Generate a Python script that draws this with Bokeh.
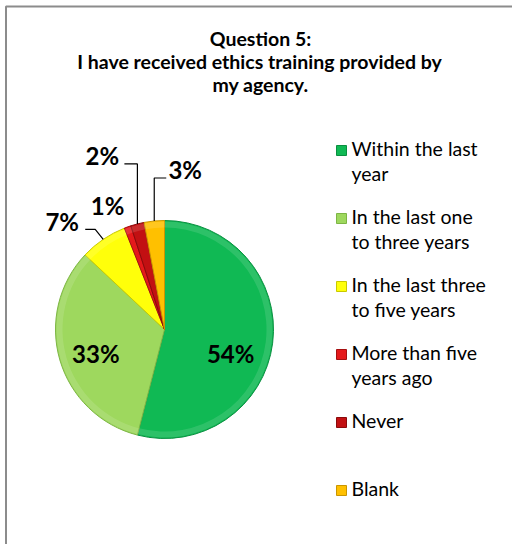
import numpy as np
from bokeh.plotting import figure
from bokeh.models import Range1d, ColumnDataSource
from bokeh.core.properties import value
from bokeh.embed import file_html
from bokeh.resources import INLINE

# ---------------- data ----------------
categories = ["Within the last year", "In the last one to three years",
              "In the last three to five years", "More than five years ago",
              "Never", "Blank"]
legend_lines = [["Within the last", "year"], ["In the last one", "to three years"],
                ["In the last three", "to five years"], ["More than five", "years ago"],
                ["Never"], ["Blank"]]
percents = [54, 33, 7, 1, 2, 3]
title_lines = ["Question 5:", "I have received ethics training provided by", "my agency."]

# ---------------- style ----------------
colors = ["#10B954", "#9ED85E", "#FFFF0A", "#E5191B", "#C21012", "#FFC000"]
edge_colors = ["#0A8F40", "#7DB545", "#C9C900", "#A50F10", "#8A0A0B", "#C99500"]
FONT = "Lato"
W, H = 512, 544
PX = lambda x: x            # page x -> data x
PY = lambda y: H - y        # page y -> data y

cx, cy, R = 164, 329, 109   # pie centre / radius (page px)
# label offsets from the slice's mid-angle edge point (page px) and leader paths
label_off = [(-42, 10), (36, -6), (-41, -18), (-20, -21), (-35, -68), (31, -51)]
leaders = {2: [(0, 0), (-8, -10), (-18, -10)],
           4: [(0, 0), (0, -60), (-13, -60)],
           5: [(0, 0), (0, -43), (12, -43)]}

p = figure(width=W, height=H, x_range=Range1d(0, W), y_range=Range1d(0, H),
           output_backend="svg", toolbar_location=None, min_border=0)
p.axis.visible = False
p.grid.visible = False
p.outline_line_color = None
p.background_fill_color = "white"
p.border_fill_color = "white"

# outer chart border
p.line(x=[PX(5.5), PX(5.5), PX(530)], y=[PY(560), PY(6), PY(6)], line_color="#8C8C8C", line_width=2)

# ---------------- pie ----------------
frac = np.array(percents, dtype=float) / sum(percents)
cum = np.concatenate([[0], np.cumsum(frac)])
start = np.pi / 2 - 2 * np.pi * cum[:-1]
end = np.pi / 2 - 2 * np.pi * cum[1:]
src = ColumnDataSource(dict(start=start, end=end, color=colors, edge=edge_colors))
p.wedge(x=PX(cx), y=PY(cy), radius=R, radius_units="screen", start_angle="start",
        end_angle="end", direction="clock", fill_color="color", line_color="edge",
        line_width=1, source=src)
# subtle bevel rim
p.annular_wedge(x=PX(cx), y=PY(cy), inner_radius=R - 7, outer_radius=R - 1,
                inner_radius_units="screen", outer_radius_units="screen",
                start_angle="start", end_angle="end", direction="clock",
                fill_color="white", fill_alpha=0.12, line_color=None, source=src)

mid = 2 * np.pi * (cum[:-1] + cum[1:]) / 2   # clockwise from top
ex = cx + R * np.sin(mid)
ey = cy - R * np.cos(mid)
lx = [ex[i] + label_off[i][0] for i in range(len(percents))]
ly = [ey[i] + label_off[i][1] for i in range(len(percents))]
p.text(x=[PX(v) for v in lx], y=[PY(v) for v in ly], text=[f"{v}%" for v in percents],
       text_font=value(FONT), text_font_style="bold", text_font_size="24px",
       text_color="black", text_align="center", text_baseline="middle")
for i, path in leaders.items():
    p.line(x=[PX(ex[i] + dx) for dx, dy in path], y=[PY(ey[i] + dy) for dx, dy in path],
           line_color="black", line_width=1.2)

# ---------------- title ----------------
title_x = [260, 259, 260]
title_y = [38, 61, 84]
p.text(x=[PX(v) for v in title_x], y=[PY(v) for v in title_y], text=title_lines,
       text_font=value(FONT), text_font_style="bold", text_font_size="19.5px",
       text_color="black", text_align="center", text_baseline="middle")

# ---------------- legend ----------------
row_top = 148
row_h = 68
line_h = 24.5
tx, ty, tt = [], [], []
for i, lines in enumerate(legend_lines):
    for j, t in enumerate(lines):
        tx.append(PX(351)); ty.append(PY(row_top + i * row_h + j * line_h)); tt.append(t)
p.text(x=tx, y=ty, text=tt, text_font=value(FONT), text_font_size="19.5px",
       text_color="black", text_align="left", text_baseline="middle")
p.rect(x=[PX(341)] * len(categories), y=[PY(row_top + 2 + i * row_h) for i in range(len(categories))],
       width=10, height=10, width_units="screen", height_units="screen",
       fill_color=colors, line_color=edge_colors, line_width=1)

open("out.html", "w").write(file_html(p, INLINE))
